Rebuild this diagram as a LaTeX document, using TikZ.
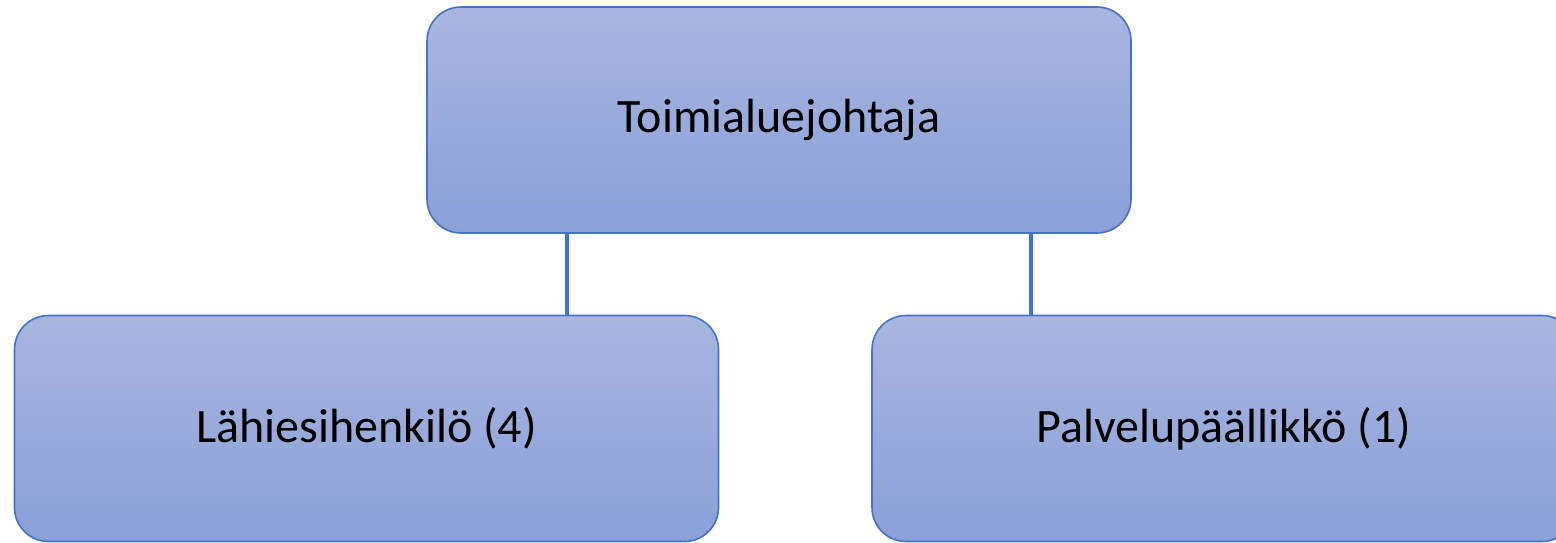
\documentclass[tikz,border=0pt]{standalone}
\usepackage{fontspec}
\setmainfont{Carlito}
\usepackage{tikz}

\definecolor{boxtop}{RGB}{169,181,224}
\definecolor{boxbot}{RGB}{138,160,216}
\definecolor{boxline}{RGB}{68,114,196}

\tikzset{
    orgbox/.style={draw=boxline, line width=0.8pt, rounded corners=17pt,
        top color=boxtop, bottom color=boxbot,
        minimum width=352pt, minimum height=113pt, inner sep=0pt,
        font=\fontsize{24}{28}\selectfont},
    orgline/.style={draw=boxline, line width=1.6pt}
}

\begin{document}
\begin{tikzpicture}[x=0.5pt, y=-0.5pt]
    \useasboundingbox (0,0) rectangle (1556,542);
    \clip (0,0) rectangle (1556,542);
    \node[orgbox] (johtaja) at (779,120) {Toimialuejohtaja};
    \node[orgbox] (lahi) at (366.5,428.5) {Lähiesihenkilö (4)};
    \node[orgbox] (palvelu) at (1224,428.5) {Palvelupäällikkö (1)};
    \draw[orgline] ([xshift=-106pt]johtaja.south) -- ([xshift=-106pt]johtaja.south |- lahi.north);
    \draw[orgline] ([xshift=126pt]johtaja.south) -- ([xshift=126pt]johtaja.south |- palvelu.north);
\end{tikzpicture}
\end{document}
